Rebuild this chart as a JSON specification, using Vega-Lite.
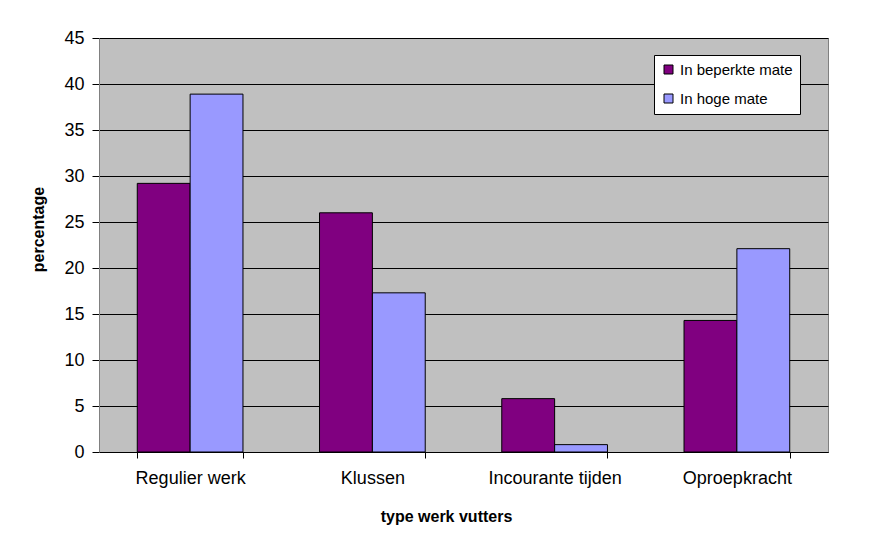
{
  "$schema": "https://vega.github.io/schema/vega-lite/v6.json",
  "width": 729,
  "height": 414,
  "autosize": {"type": "none"},
  "padding": {"left": 99, "top": 38, "right": 46, "bottom": 95},
  "background": "white",
  "data": {
    "values": [
      {"type": "Regulier werk", "reeks": "In beperkte mate", "pct": 29.2},
      {"type": "Regulier werk", "reeks": "In hoge mate", "pct": 38.9},
      {"type": "Klussen", "reeks": "In beperkte mate", "pct": 26.0},
      {"type": "Klussen", "reeks": "In hoge mate", "pct": 17.3},
      {"type": "Incourante tijden", "reeks": "In beperkte mate", "pct": 5.8},
      {"type": "Incourante tijden", "reeks": "In hoge mate", "pct": 0.8},
      {"type": "Oproepkracht", "reeks": "In beperkte mate", "pct": 14.3},
      {"type": "Oproepkracht", "reeks": "In hoge mate", "pct": 22.1}
    ]
  },
  "mark": {"type": "bar", "stroke": "black", "strokeWidth": 1},
  "encoding": {
    "x": {
      "field": "type",
      "type": "nominal",
      "sort": null,
      "scale": {"paddingInner": 0.42, "paddingOuter": 0.21},
      "axis": {
        "title": "type werk vutters",
        "labelAngle": 0,
        "labelFont": "Liberation Sans",
        "labelFontSize": 18,
        "labelColor": "black",
        "labelPadding": 11,
        "tickBand": "extent",
        "tickSize": 6,
        "tickColor": "black",
        "domainColor": "black",
        "titleFont": "Liberation Sans",
        "titleFontSize": 16,
        "titleFontWeight": "bold",
        "titleColor": "black",
        "titlePadding": 21,
        "titleX": 347,
        "grid": false
      }
    },
    "xOffset": {"field": "reeks", "type": "nominal", "scale": {"paddingInner": 0}},
    "y": {
      "field": "pct",
      "type": "quantitative",
      "scale": {"domain": [0, 45], "nice": false},
      "axis": {
        "title": "percentage",
        "values": [0, 5, 10, 15, 20, 25, 30, 35, 40, 45],
        "labelFont": "Liberation Sans",
        "labelFontSize": 18,
        "labelColor": "black",
        "labelPadding": 8,
        "tickSize": 7,
        "tickColor": "black",
        "domainColor": "#808080",
        "gridColor": "black",
        "gridOpacity": 1,
        "gridWidth": 1,
        "titleFont": "Liberation Sans",
        "titleFontSize": 16,
        "titleFontWeight": "bold",
        "titleColor": "black",
        "titlePadding": 17,
        "titleY": 191
      }
    },
    "color": {
      "field": "reeks",
      "type": "nominal",
      "scale": {"domain": ["In beperkte mate", "In hoge mate"], "range": ["#800080", "#9999FF"]},
      "legend": {
        "title": null,
        "orient": "none",
        "legendX": 555,
        "legendY": 17,
        "symbolType": "square",
        "symbolSize": 81,
        "symbolStrokeColor": "black",
        "symbolStrokeWidth": 1,
        "labelFont": "Liberation Sans",
        "labelFontSize": 15,
        "labelColor": "black",
        "labelOffset": 4,
        "rowPadding": 13,
        "padding": 7,
        "fillColor": "white",
        "strokeColor": "black",
        "cornerRadius": 0
      }
    }
  },
  "config": {
    "view": {"fill": "#C0C0C0", "stroke": "#808080", "strokeWidth": 1},
    "axis": {"domainWidth": 1}
  }
}
